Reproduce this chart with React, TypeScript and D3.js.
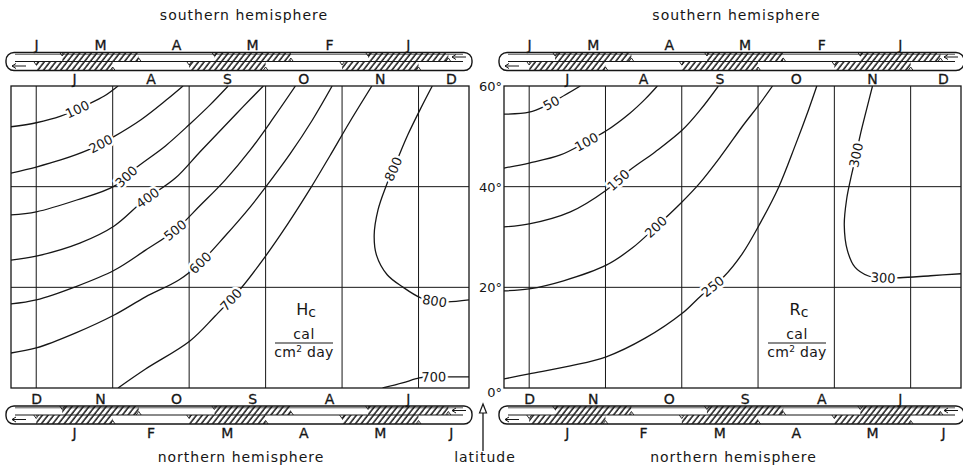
import React from "react";
import * as d3 from "d3";

type Pt = [number, number]; // [months after 1 July, latitude in degrees]

const W = 963;
const H = 468;

// month letters on the slide bars
const topOuterMonths = ["J", "M", "A", "M", "F", "J"];
const topInnerMonths = ["J", "A", "S", "O", "N", "D"];
const bottomInnerMonths = ["D", "N", "O", "S", "A", "J"];
const bottomOuterMonths = ["J", "F", "M", "A", "M", "J"];
// month boundaries of the opposite half-year, in the same month units
const mirrorBounds = [0.34, 1.34, 2.33, 3.33, 4.34, 5.39];
const monthBounds = [0, 1, 2, 3, 4, 5];
const latTicks = [60, 40, 20, 0];
const latGrid = [20, 40];
const X_DOMAIN: [number, number] = [-0.33, 5.66];

// Hc isolines (cal / cm2 day)
const hc100: Pt[] = [[-0.33, 51.9], [0, 52.7], [0.32, 54.0], [0.68, 56.4], [0.89, 58.0], [1.07, 60]];
const hc200: Pt[] = [[-0.33, 42.7], [0, 43.9], [0.32, 45.3], [0.68, 47.3], [1.01, 49.9], [1.37, 53.3], [1.7, 57.2], [1.92, 60]];
const hc300: Pt[] = [[-0.33, 34.4], [0, 35.0], [0.53, 37.35], [1.02, 40.1], [1.3, 43.7], [1.69, 48.1], [2.01, 52.45], [2.27, 56.2], [2.51, 60]];
const hc400: Pt[] = [[-0.33, 25.4], [0, 26.2], [0.57, 28.8], [1.02, 32.2], [1.4, 37.15], [1.82, 41.7], [2.14, 46.9], [2.43, 51.5], [2.7, 55.8], [2.97, 60]];
const hc500: Pt[] = [[-0.33, 16.7], [0, 17.5], [0.51, 20.1], [1.02, 23.4], [1.43, 27.4], [1.82, 31.4], [2.14, 36.2], [2.47, 41.3], [2.8, 47.3], [3.1, 53.6], [3.39, 60]];
const hc600: Pt[] = [[-0.33, 6.95], [0, 7.95], [0.51, 10.9], [1.02, 14.5], [1.43, 18.1], [1.87, 21.5], [2.14, 24.8], [2.47, 30.2], [2.8, 36.0], [3.0, 39.9], [3.32, 46.5], [3.61, 53.2], [3.87, 60]];
const hc700a: Pt[] = [[1.07, 0], [1.43, 3.77], [2.01, 9.34], [2.34, 14.3], [2.67, 19.67], [2.99, 26.0], [3.29, 32.6], [3.58, 39.5], [3.84, 46.1], [4.1, 52.85], [4.39, 60]];
const hc700b: Pt[] = [[4.53, 0], [4.79, 1.0], [5.01, 2.0], [5.18, 2.2], [5.38, 2.2], [5.66, 2.2]];
const hc800: Pt[] = [[5.18, 60], [5.03, 55.6], [4.86, 50.3], [4.72, 45.3], [4.57, 39.9], [4.47, 35.4], [4.42, 30.4], [4.45, 26.4], [4.59, 22.5], [4.79, 20.1], [5.03, 17.9], [5.21, 17.3], [5.38, 17.1], [5.66, 17.5]];

// Rc isolines (cal / cm2 day)
const rc50: Pt[] = [[-0.33, 54.4], [0, 54.8], [0.21, 56.0], [0.47, 58.2], [0.67, 60]];
const rc100: Pt[] = [[-0.33, 43.7], [0, 44.7], [0.41, 46.3], [0.75, 48.9], [1.01, 51.1], [1.32, 54.6], [1.52, 57.4], [1.68, 60]];
const rc150: Pt[] = [[-0.33, 32.0], [0, 32.6], [0.54, 35.0], [1.01, 39.3], [1.32, 43.3], [1.65, 46.9], [2.01, 51.3], [2.24, 55.2], [2.48, 60]];
const rc200: Pt[] = [[-0.33, 19.3], [0, 19.7], [0.45, 21.3], [1.01, 24.4], [1.35, 27.8], [1.66, 32.0], [1.98, 36.6], [2.23, 40.6], [2.51, 46.0], [2.81, 52.3], [3.0, 56.0], [3.19, 60]];
const rc250: Pt[] = [[-0.33, 1.8], [0, 2.8], [0.54, 4.4], [1.01, 6.2], [1.52, 9.9], [2.01, 14.9], [2.25, 18.3], [2.55, 22.1], [2.79, 26.6], [3.03, 32.8], [3.27, 39.9], [3.49, 48.3], [3.66, 55.2], [3.77, 60]];
const rc300: Pt[] = [[4.5, 60], [4.42, 55.2], [4.34, 50.3], [4.27, 45.3], [4.21, 41.3], [4.16, 37.4], [4.13, 32.4], [4.17, 27.4], [4.27, 24.0], [4.44, 22.3], [4.64, 21.9], [4.86, 21.9], [5.26, 22.3], [5.66, 22.7]];

type Iso = { level: number; pts: Pt[]; labelsAt: Pt[] };

const hcIsolines: Iso[] = [
  { level: 100, pts: hc100, labelsAt: [[0.53, 55.6]] },
  { level: 200, pts: hc200, labelsAt: [[0.84, 48.6]] },
  { level: 300, pts: hc300, labelsAt: [[1.19, 41.8]] },
  { level: 400, pts: hc400, labelsAt: [[1.47, 37.5]] },
  { level: 500, pts: hc500, labelsAt: [[1.82, 31.3]] },
  { level: 600, pts: hc600, labelsAt: [[2.15, 24.8]] },
  { level: 700, pts: hc700a, labelsAt: [[2.55, 17.5]] },
  { level: 700, pts: hc700b, labelsAt: [[5.2, 2.2]] },
  { level: 800, pts: hc800, labelsAt: [[4.67, 43.5], [5.21, 17.3]] },
];

const rcIsolines: Iso[] = [
  { level: 50, pts: rc50, labelsAt: [[0.29, 56.6]] },
  { level: 100, pts: rc100, labelsAt: [[0.75, 48.9]] },
  { level: 150, pts: rc150, labelsAt: [[1.17, 41.3]] },
  { level: 200, pts: rc200, labelsAt: [[1.66, 32.0]] },
  { level: 250, pts: rc250, labelsAt: [[2.4, 20.3]] },
  { level: 300, pts: rc300, labelsAt: [[4.27, 46.3], [4.64, 21.9]] },
];

const INK = "#161616";
const FONT = "'DejaVu Sans', 'Noto Sans', sans-serif";

const PLOT_TOP = 86;
const PLOT_BOTTOM = 388;

const curve = d3.curveCatmullRom.alpha(0.5);

// flatten the drawn curve into a dense polyline
function sampleCurve(pts: [number, number][]): [number, number][] {
  const out: [number, number][] = [];
  let cx = 0, cy = 0;
  const ctx: any = {
    moveTo(x: number, y: number) { out.push([x, y]); cx = x; cy = y; },
    lineTo(x: number, y: number) { out.push([x, y]); cx = x; cy = y; },
    bezierCurveTo(x1: number, y1: number, x2: number, y2: number, x: number, y: number) {
      for (let k = 1; k <= 20; k++) {
        const t = k / 20, u = 1 - t;
        out.push([
          u * u * u * cx + 3 * u * u * t * x1 + 3 * u * t * t * x2 + t * t * t * x,
          u * u * u * cy + 3 * u * u * t * y1 + 3 * u * t * t * y2 + t * t * t * y,
        ]);
      }
      cx = x; cy = y;
    },
    quadraticCurveTo(x1: number, y1: number, x: number, y: number) { out.push([x, y]); cx = x; cy = y; },
    closePath() {},
  };
  d3.line<[number, number]>().curve(curve).context(ctx)(pts);
  return out;
}

// closest point on a polyline plus local direction (degrees, kept readable)
function snapOnto(poly: [number, number][], p: [number, number]) {
  let best = { d: Infinity, x: p[0], y: p[1], i: 0 };
  for (let i = 0; i < poly.length - 1; i++) {
    const [ax, ay] = poly[i];
    const [bx, by] = poly[i + 1];
    const dx = bx - ax, dy = by - ay;
    const len2 = dx * dx + dy * dy || 1;
    let t = ((p[0] - ax) * dx + (p[1] - ay) * dy) / len2;
    t = Math.max(0, Math.min(1, t));
    const qx = ax + t * dx, qy = ay + t * dy;
    const d = (qx - p[0]) ** 2 + (qy - p[1]) ** 2;
    if (d < best.d) best = { d, x: qx, y: qy, i };
  }
  const a = poly[Math.max(0, best.i - 4)];
  const b = poly[Math.min(poly.length - 1, best.i + 5)];
  let ang = (Math.atan2(b[1] - a[1], b[0] - a[0]) * 180) / Math.PI;
  if (ang > 90) ang -= 180;
  if (ang < -90) ang += 180;
  return { x: best.x, y: best.y, ang };
}

function SlideBar({ x, top, upper, lower, idx }: { x: d3.ScaleLinear<number, number>; top: number; upper: string[]; lower: string[]; idx: string }) {
  const h = 18;
  const mid = top + h / 2;
  const bottom = top + h;
  const [d0, d1] = X_DOMAIN;
  const left = x(d0) - 5;
  const right = x(d1) + 3;
  const mb = [d0, ...mirrorBounds, d1];
  const nb = [d0, ...monthBounds, d1];
  const segs = (b: number[]) => b.slice(0, -1).map((v, i) => [v, b[i + 1]] as [number, number]);
  const upperSegs = segs(mb);
  const lowerSegs = segs(nb);
  return (
    <g>
      {upperSegs.map(([a, b], i) =>
        i % 2 === 1 ? <rect key={"u" + i} x={x(a)} y={top} width={x(b) - x(a)} height={h / 2} fill="url(#hatch)" /> : null
      )}
      {lowerSegs.map(([a, b], i) =>
        i % 2 === 1 ? <rect key={"l" + i} x={x(a)} y={mid} width={x(b) - x(a)} height={h / 2} fill="url(#hatch)" /> : null
      )}
      {/* boundary notches */}
      {mirrorBounds.map((v, i) => (
        <path key={"nu" + i} d={i % 2 === 0 ? `M${x(v) - 2.5},${top} L${x(v)},${top + 3.5} L${x(v) + 2.5},${top}` : `M${x(v) - 2.5},${mid} L${x(v)},${mid - 3.5} L${x(v) + 2.5},${mid}`} fill="none" stroke={INK} strokeWidth={0.9} />
      ))}
      {monthBounds.map((v, i) => (
        <path key={"nl" + i} d={i % 2 === 0 ? `M${x(v) - 2.5},${mid} L${x(v)},${mid + 3.5} L${x(v) + 2.5},${mid}` : `M${x(v) - 2.5},${bottom} L${x(v)},${bottom - 3.5} L${x(v) + 2.5},${bottom}`} fill="none" stroke={INK} strokeWidth={0.9} />
      ))}
      <rect x={left} y={top} width={right - left} height={h} rx={8} ry={8} fill="none" stroke={INK} strokeWidth={1.4} />
      <line x1={left + 9} x2={right - 9} y1={top + 1.8} y2={top + 1.8} stroke={INK} strokeWidth={0.7} />
      <line x1={left + 9} x2={right - 9} y1={mid} y2={mid} stroke={INK} strokeWidth={1.1} />
      {/* end arrows */}
      <g stroke={INK} strokeWidth={1} fill="none">
        <line x1={left + 6} x2={left + 20} y1={mid + 4.5} y2={mid + 4.5} />
        <path d={`M${left + 10},${mid + 2} L${left + 6},${mid + 4.5} L${left + 10},${mid + 7}`} />
        <line x1={right - 20} x2={right - 6} y1={mid - 4.5} y2={mid - 4.5} />
        <path d={`M${right - 16},${mid - 7} L${right - 20},${mid - 4.5} L${right - 16},${mid - 2}`} />
      </g>
      <g fontFamily={FONT} fontSize={14} fill={INK} textAnchor="middle" stroke={INK} strokeWidth={0.3}>
        {upper.map((m, i) => (
          <text key={idx + "ut" + i} x={x((mb[i] + mb[i + 1]) / 2)} y={top - 2.5}>{m}</text>
        ))}
        {lower.map((m, i) => {
          const c = Math.min(i + 0.5, d1 - 0.23);
          return <text key={idx + "lt" + i} x={x(c)} y={bottom + 13.5}>{m}</text>;
        })}
      </g>
    </g>
  );
}

function Panel({ left, right, isolines, sym, id }: { left: number; right: number; isolines: Iso[]; sym: string; id: string }) {
  const x = d3.scaleLinear().domain(X_DOMAIN).range([left, right]);
  const y = d3.scaleLinear().domain([0, 60]).range([PLOT_BOTTOM, PLOT_TOP]);
  const line = d3
    .line<Pt>()
    .x((d) => x(d[0]))
    .y((d) => y(d[1]))
    .curve(curve);
  const cx = left + 293;
  const midX = (left + right) / 2;
  return (
    <g>
      <clipPath id={id}>
        <rect x={x(X_DOMAIN[0])} y={PLOT_TOP} width={x(X_DOMAIN[1]) - x(X_DOMAIN[0])} height={PLOT_BOTTOM - PLOT_TOP} />
      </clipPath>
      {/* grid */}
      <g stroke={INK} strokeWidth={1}>
        {monthBounds.map((m) => (
          <line key={"v" + m} x1={x(m)} x2={x(m)} y1={PLOT_TOP} y2={PLOT_BOTTOM} />
        ))}
        {latGrid.map((l) => (
          <line key={"h" + l} x1={x(X_DOMAIN[0])} x2={x(X_DOMAIN[1])} y1={y(l)} y2={y(l)} />
        ))}
      </g>
      <rect x={x(X_DOMAIN[0])} y={PLOT_TOP} width={x(X_DOMAIN[1]) - x(X_DOMAIN[0])} height={PLOT_BOTTOM - PLOT_TOP} fill="none" stroke={INK} strokeWidth={1.3} />
      {/* isolines */}
      <g clipPath={`url(#${id})`}>
        {isolines.map((iso, i) => (
          <path key={"c" + i} d={line(iso.pts) || ""} fill="none" stroke={INK} strokeWidth={1.3} />
        ))}
      </g>
      <g fontFamily={FONT} fontSize={13} fill={INK} textAnchor="middle">
        {isolines.flatMap((iso, i) => {
          const poly = sampleCurve(iso.pts.map((p) => [x(p[0]), y(p[1])] as [number, number]));
          return iso.labelsAt.map((p, j) => {
            const s = snapOnto(poly, [x(p[0]), y(p[1])]);
            return (
              <text
                key={"t" + i + "-" + j}
                transform={`translate(${s.x},${s.y}) rotate(${s.ang})`}
                dy="0.36em"
                stroke="#fff"
                strokeWidth={5}
                paintOrder="stroke"
                strokeLinejoin="round"
              >
                {iso.level}
              </text>
            );
          });
        })}
      </g>
      {/* quantity and unit */}
      <g fontFamily={FONT} fill={INK} textAnchor="middle">
        <text x={cx + 2} y={315} fontSize={16}>
          {sym}
          <tspan fontSize={14} dy={2}>c</tspan>
        </text>
        <text x={cx} y={339} fontSize={14} letterSpacing={0.5}>cal</text>
        <line x1={cx - 29} x2={cx + 29} y1={343} y2={343} stroke={INK} strokeWidth={1.2} />
        <text x={cx} y={357} fontSize={14} letterSpacing={0.3}>
          cm<tspan fontSize={9} dy={-5}>2</tspan>
          <tspan dy={5}> day</tspan>
        </text>
      </g>
      {/* bars */}
      <SlideBar x={x} top={52.5} upper={topOuterMonths} lower={topInnerMonths} idx={id + "top"} />
      <SlideBar x={x} top={406} upper={bottomInnerMonths} lower={bottomOuterMonths} idx={id + "bot"} />
      <g fontFamily={FONT} fontSize={14} fill={INK} textAnchor="middle" letterSpacing={1}>
        <text x={midX + 4} y={20}>southern hemisphere</text>
        <text x={midX + 1} y={462}>northern hemisphere</text>
      </g>
    </g>
  );
}

export default function App() {
  const yAxis = d3.scaleLinear().domain([0, 60]).range([PLOT_BOTTOM, PLOT_TOP]);
  return (
    <svg
      width={W}
      height={H}
      viewBox={`0 0 ${W} ${H}`}
      style={{ position: "fixed", left: 0, top: 0, background: "#fff" }}
    >
      <defs>
        <pattern id="hatch" width={4.5} height={12} patternUnits="userSpaceOnUse" patternTransform="rotate(38)">
          <line x1={1} y1={0} x2={1} y2={12} stroke={INK} strokeWidth={1.5} />
        </pattern>
      </defs>
      <rect width={W} height={H} fill="#fff" />
      <Panel left={11} right={469} isolines={hcIsolines} sym="H" id="hc" />
      <Panel left={504} right={961} isolines={rcIsolines} sym="R" id="rc" />
      {/* latitude scale between the panels */}
      <g fontFamily={FONT} fontSize={13} fill={INK} textAnchor="end">
        {latTicks.map((l) => (
          <text key={l} x={502} y={yAxis(l) + (l === 0 ? 9 : 5)}>
            {l}°
          </text>
        ))}
      </g>
      <line x1={483} x2={483} y1={410} y2={451} stroke={INK} strokeWidth={1.3} />
      <path d="M479.5,413 L483,404 L486.5,413 Z" fill="#fff" stroke={INK} strokeWidth={1.2} />
      <text x={485} y={462} fontFamily={FONT} fontSize={14} fill={INK} textAnchor="middle" letterSpacing={1}>
        latitude
      </text>
    </svg>
  );
}
